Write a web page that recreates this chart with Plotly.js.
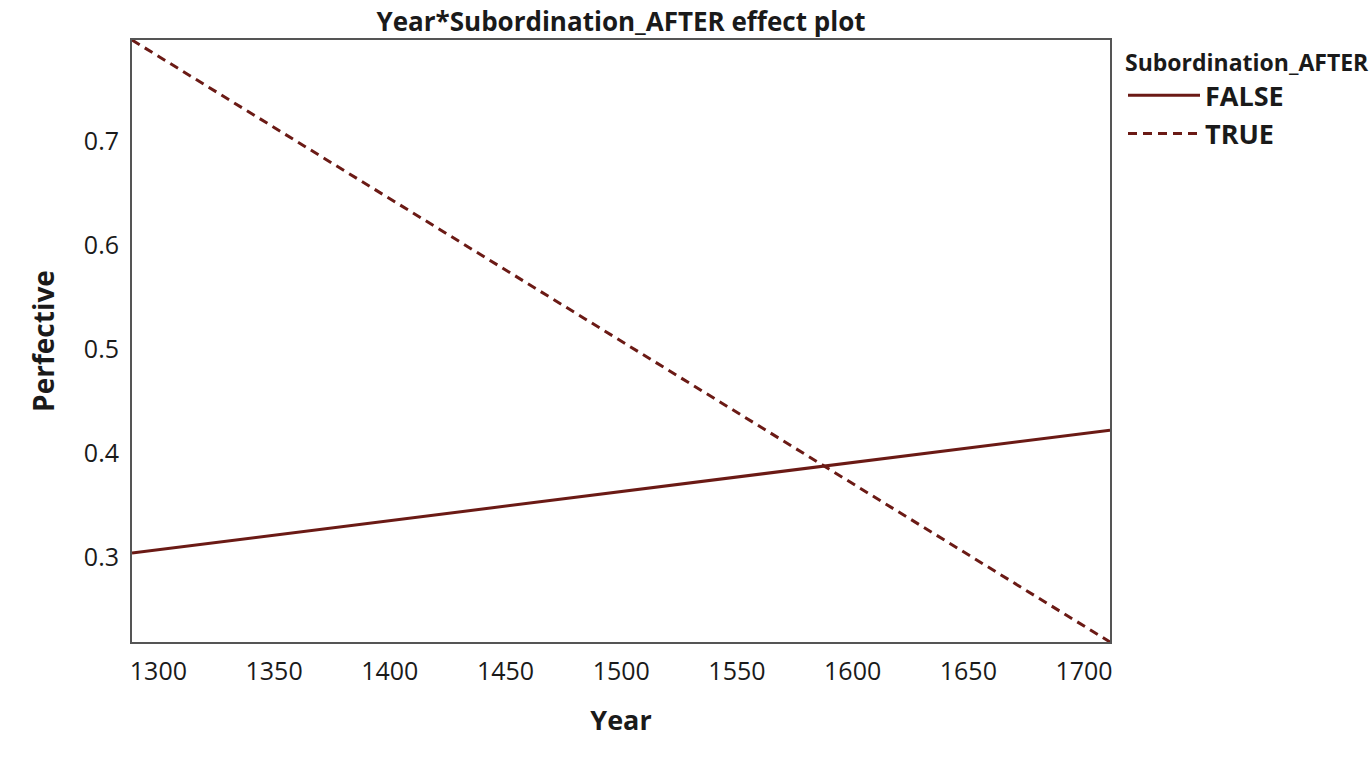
<!DOCTYPE html>
<html>
<head>
<meta charset="utf-8">
<script src="https://cdn.plot.ly/plotly-3.0.1.min.js"></script>
<style>
  html, body { margin: 0; padding: 0; background: #fff; }
  #chart { width: 1371px; height: 780px; }
</style>
</head>
<body>
<div id="chart"></div>
<script>
// effect plot: two fitted lines, ends
const years = [1288.6, 1711.2];
const perfFalse = [0.3036, 0.4220];
const perfTrue = [0.7976, 0.2180];
const groups = ['FALSE', 'TRUE'];
const xTicks = [1300, 1350, 1400, 1450, 1500, 1550, 1600, 1650, 1700];
const yTicks = [0.3, 0.4, 0.5, 0.6, 0.7];

const LINE = '#6b1a15';
const AXIS = '#555555';
const FONT = 'Open Sans, sans-serif';

const traces = [
  {x: years, y: perfFalse, name: '<b>' + groups[0] + '</b>', mode: 'lines', type: 'scatter',
   line: {color: LINE, width: 3}},
  {x: years, y: perfTrue, name: '<b>' + groups[1] + '</b>', mode: 'lines', type: 'scatter',
   line: {color: LINE, width: 3, dash: '9px,6px'}},
];

const layout = {
  width: 1371, height: 780,
  margin: {l: 132, r: 261, t: 40, b: 138, pad: 0},
  paper_bgcolor: '#fff', plot_bgcolor: '#fff',
  font: {family: FONT, color: '#1a1a1a'},
  title: {text: '<b>Year*Subordination_AFTER effect plot</b>', x: 0.5, xref: 'paper',
          y: 0.983, yref: 'container', yanchor: 'top',
          font: {size: 26, family: FONT, color: '#1a1a1a'}},
  xaxis: {range: [years[0], years[1]], tickvals: xTicks, ticks: '', showgrid: false,
          zeroline: false, showline: true, linecolor: AXIS, linewidth: 2, mirror: true,
          tickfont: {size: 25}, ticklabelstandoff: 6,
          title: {text: '<b>Year</b>', font: {size: 27}, standoff: 25}},
  yaxis: {range: [0.2180, 0.7976], tickvals: yTicks, ticks: '', showgrid: false,
          zeroline: false, showline: true, linecolor: AXIS, linewidth: 2, mirror: true,
          tickfont: {size: 25}, ticklabelstandoff: 6,
          title: {text: '<b>Perfective</b>', font: {size: 28}, standoff: 21}},
  legend: {x: 1123 / 1371, xanchor: 'left', y: 0.947, yanchor: 'top',
           xref: 'container', yref: 'container',
           bgcolor: 'rgba(0,0,0,0)', borderwidth: 0, itemwidth: 72,
           title: {text: '<b>Subordination_AFTER</b>', font: {size: 23}},
           font: {size: 27}, tracegroupgap: 0},
  showlegend: true,
};

Plotly.newPlot('chart', traces, layout, {displayModeBar: false, staticPlot: true});
</script>
</body>
</html>
